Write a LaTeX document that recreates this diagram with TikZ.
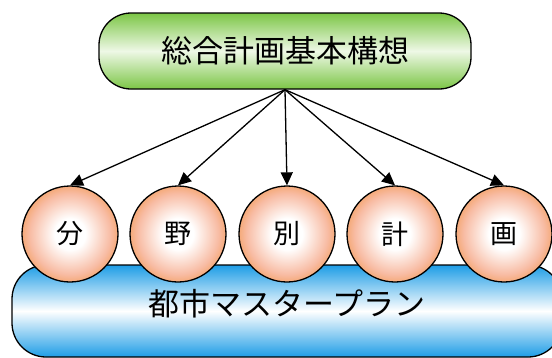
\documentclass[tikz,border=0pt]{standalone}
\usepackage{fontspec}
\setmainfont{Noto Sans CJK JP}
\usetikzlibrary{arrows.meta}
\definecolor{leaf}{HTML}{7CC646}
\definecolor{leaflight}{HTML}{EEF8E6}
\definecolor{sky}{HTML}{1E9DE6}
\definecolor{ballorange}{HTML}{F08F3A}
\definecolor{ballpink}{HTML}{F8BCA4}
\pgfdeclareradialshading{ball}{\pgfpoint{0bp}{0bp}}{color(0bp)=(white); color(8bp)=(white); color(21bp)=(ballpink); color(31bp)=(ballorange); color(50bp)=(ballorange)}
\tikzstyle{edge}=[-{Triangle[length=13pt,width=12pt]}, line width=1.3pt]
\tikzstyle{plan}=[draw, line width=1.3pt, rounded corners=32pt,
                  minimum width=372pt, minimum height=76pt,
                  top color=leaf, bottom color=leaf, middle color=leaflight,
                  font=\fontsize{31}{31}\selectfont]
\tikzstyle{base}=[draw, line width=1.3pt, rounded corners=34pt,
                  minimum width=550pt, minimum height=92pt,
                  top color=sky, bottom color=sky, middle color=white]
\tikzstyle{ball}=[circle, draw, line width=1.3pt, shading=ball,
                  minimum size=96pt, inner sep=0pt,
                  font=\fontsize{27}{27}\selectfont]

\begin{document}
\begin{tikzpicture}[x=1pt, y=-1pt]
    \useasboundingbox (0,0) rectangle (552,357);
    \clip (0,0) rectangle (552,357);

    \node (top) at (285,51) [plan] {総合計画基本構想};

    \node (city) at (287,311) [base] {};
    \node (citylabel) at (287,304) [font=\fontsize{31}{31}\selectfont] {都市マスタープラン};

    \node (c1) at (70,234)  [ball] {分};
    \node (c2) at (178,234) [ball] {野};
    \node (c3) at (287,234) [ball] {別};
    \node (c4) at (395,234) [ball] {計};
    \node (c5) at (504,234) [ball] {画};

    \foreach \v in {c1,c2,c3,c4,c5}
      \draw [edge] (top.south) to (\v.north);
\end{tikzpicture}
\end{document}
